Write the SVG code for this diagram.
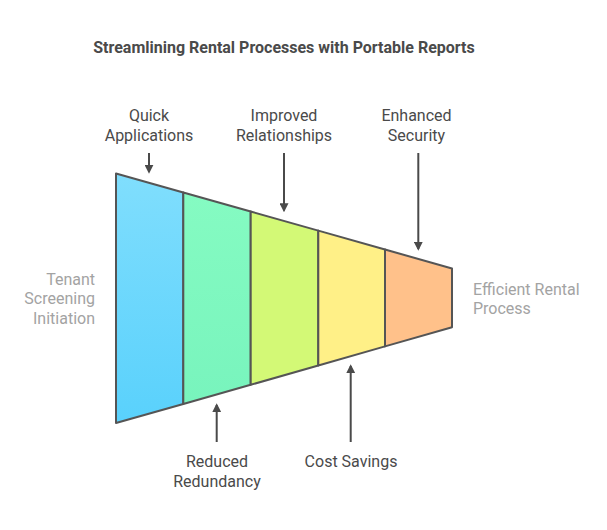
<svg xmlns="http://www.w3.org/2000/svg" width="607" height="530" viewBox="0 0 607 530">
<style>
.t{font-family:Roboto,"Liberation Sans",sans-serif;font-size:16px;fill:#4a4a4a;text-anchor:middle}
.s{font-family:Roboto,"Liberation Sans",sans-serif;font-size:16px;fill:#a3a3a3}
.title{font-family:Roboto,"Liberation Sans",sans-serif;font-size:16px;font-weight:bold;fill:#4a4a4a;text-anchor:middle}
.seg{stroke:#555;stroke-width:2;stroke-linejoin:round}
.c{stroke:#4a4a4a;stroke-width:2;fill:none;marker-end:url(#ah)}
</style>
<defs>
<marker id="ah" viewBox="0 0 10 10" refX="8" refY="5" markerWidth="4.5" markerHeight="4.5" orient="auto" markerUnits="strokeWidth">
<path d="M0,0 L10,5 L0,10 z" fill="#4a4a4a"/>
</marker>
<linearGradient id="g1" x1="0" y1="0" x2="0" y2="1"><stop offset="0" stop-color="#80defd"/><stop offset="1" stop-color="#59d1fc"/></linearGradient>
<linearGradient id="g2" x1="0" y1="0" x2="0" y2="1"><stop offset="0" stop-color="#85fbc2"/><stop offset="1" stop-color="#78f4bd"/></linearGradient>
</defs>
<text class="title" x="284" y="53">Streamlining Rental Processes with Portable Reports</text>
<g id="seg1"><polygon class="seg" fill="url(#g1)" points="116,173.5 183.3,192.5 183.3,404 116,423"/></g>
<g id="seg2"><polygon class="seg" fill="url(#g2)" points="183.3,192.5 250.7,211.5 250.7,384.8 183.3,404"/></g>
<g id="seg3"><polygon class="seg" fill="#d3f976" points="250.7,211.5 318.3,230.6 318.3,365.5 250.7,384.8"/></g>
<g id="seg4"><polygon class="seg" fill="#fff087" points="318.3,230.6 385,249.5 385,346.4 318.3,365.5"/></g>
<g id="seg5"><polygon class="seg" fill="#ffc18a" points="385,249.5 452,268.5 452,327.3 385,346.4"/></g>
<g id="connectors">
<line class="c" x1="149" y1="153" x2="149" y2="172"/>
<line class="c" x1="284" y1="153" x2="284" y2="210.5"/>
<line class="c" x1="418.3" y1="153" x2="418.3" y2="249"/>
<line class="c" x1="216.7" y1="442" x2="216.7" y2="405"/>
<line class="c" x1="350.7" y1="442" x2="350.7" y2="366"/>
</g>
<g id="label-quick"><text class="t" x="149" y="121">Quick</text><text class="t" x="149" y="140.5">Applications</text></g>
<g id="label-improved"><text class="t" x="284" y="121">Improved</text><text class="t" x="284" y="140.5">Relationships</text></g>
<g id="label-enhanced"><text class="t" x="416.5" y="121">Enhanced</text><text class="t" x="416.5" y="140.5">Security</text></g>
<g id="label-reduced"><text class="t" x="217" y="467">Reduced</text><text class="t" x="217" y="486.5">Redundancy</text></g>
<g id="label-cost"><text class="t" x="351" y="467">Cost Savings</text></g>
<g id="label-start"><text class="s" text-anchor="end" x="95" y="284.5">Tenant</text><text class="s" text-anchor="end" x="95" y="304">Screening</text><text class="s" text-anchor="end" x="95" y="323.5">Initiation</text></g>
<g id="label-end"><text class="s" x="473" y="294.5">Efficient Rental</text><text class="s" x="473" y="314">Process</text></g>
</svg>
